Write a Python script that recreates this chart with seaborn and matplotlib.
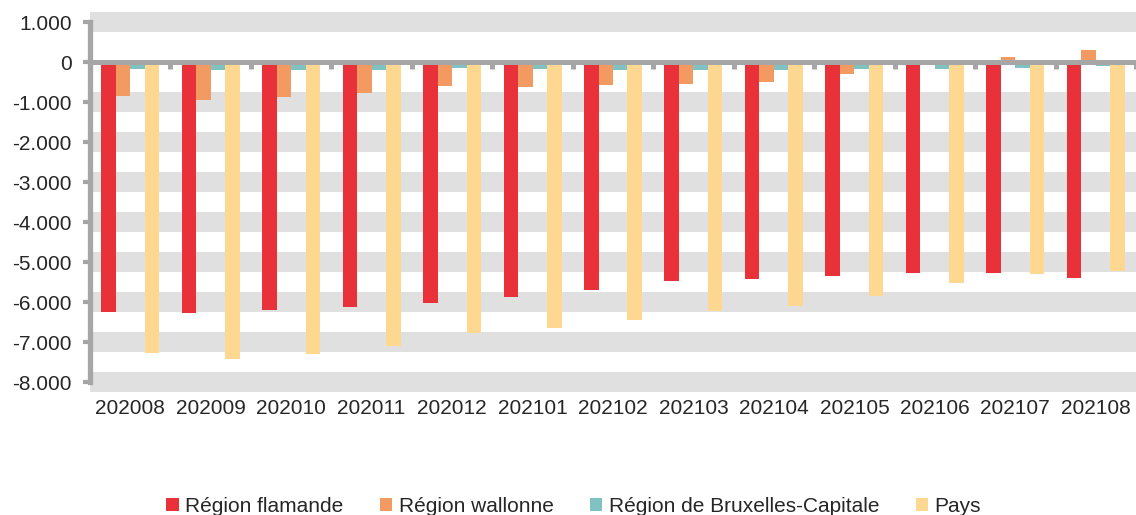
import seaborn as sns
import matplotlib.pyplot as plt
import pandas as pd
import numpy as np
from matplotlib.ticker import FuncFormatter, FixedLocator

mois = ['202008', '202009', '202010', '202011', '202012', '202101', '202102',
        '202103', '202104', '202105', '202106', '202107', '202108']
flamande = [-6250, -6280, -6210, -6130, -6020, -5870, -5690,
            -5480, -5430, -5340, -5280, -5280, -5400]
wallonne = [-850, -940, -880, -780, -610, -620, -580,
            -560, -490, -310, -40, 120, 300]
bruxelles = [-170, -200, -200, -200, -160, -180, -190,
             -195, -190, -180, -180, -155, -110]
pays = [-7270, -7420, -7290, -7090, -6780, -6660, -6460,
        -6230, -6110, -5840, -5520, -5300, -5220]

series = ['Région flamande', 'Région wallonne', 'Région de Bruxelles-Capitale', 'Pays']
couleurs = ['#E9313A', '#F29A61', '#80C1C1', '#FED890']

dados = pd.DataFrame({
    'mois': mois * 4,
    'serie': np.repeat(series, len(mois)),
    'valeur': flamande + wallonne + bruxelles + pays,
})

sns.set_style('white')
plt.rcParams['font.family'] = ['Liberation Sans', 'DejaVu Sans']
gris = '#A6A6A6'

fig = plt.figure(figsize=(11.36, 5.15), dpi=100)
ax = fig.add_axes([90 / 1136, 123 / 515, 1 - 90 / 1136, 380 / 515])

ax = sns.barplot(data=dados, x='mois', y='valeur', hue='serie', hue_order=series,
                 palette=dict(zip(series, couleurs)), saturation=1, width=0.72, gap=0,
                 linewidth=0, errorbar=None, ax=ax)

# bandes grises autour de chaque graduation (sauf 0)
ticks_y = np.arange(-8000, 1001, 1000)
for t in ticks_y:
    if t != 0:
        ax.axhspan(t - 250, t + 250, color='#E0E0E0', zorder=0, lw=0)

ax.set_ylim(-8250, 1250)
ax.set_xlim(-0.5, len(mois) - 0.5)
ax.yaxis.set_major_locator(FixedLocator(ticks_y))
ax.yaxis.set_major_formatter(FuncFormatter(lambda v, p: f"{v:,.0f}".replace(',', '.')))

# axes style Excel
ax.spines['right'].set_visible(False)
ax.spines['bottom'].set_visible(False)
ax.spines['left'].set_bounds(-8000, 1000)
ax.spines['left'].set_color(gris)
ax.spines['left'].set_linewidth(3.8)
ax.spines['top'].set_position(('data', 0))
ax.spines['top'].set_color(gris)
ax.spines['top'].set_linewidth(3.6)

ax.set_xticks(np.arange(-0.5, len(mois)), minor=True)
ax.tick_params(axis='x', which='major', bottom=True, top=False, length=0,
               labelsize=15, pad=5)
ax.tick_params(axis='x', which='minor', bottom=False, top=True, direction='in',
               length=4.7, width=3.6, color=gris)
ax.tick_params(axis='y', which='major', left=True, length=5, width=3, color=gris,
               labelsize=15, pad=8)

ax.set_xlabel('')
ax.set_ylabel('')

handles, labels = ax.get_legend_handles_labels()
ax.get_legend().remove()
fig.legend(handles, labels, loc='center', bbox_to_anchor=(0.505, 0.017), ncol=4,
           frameon=False, fontsize=15, handlelength=0.6, handleheight=0.6,
           handletextpad=0.3, columnspacing=1.75, borderpad=0)

plt.savefig('out.png', dpi=100)
plt.close()
